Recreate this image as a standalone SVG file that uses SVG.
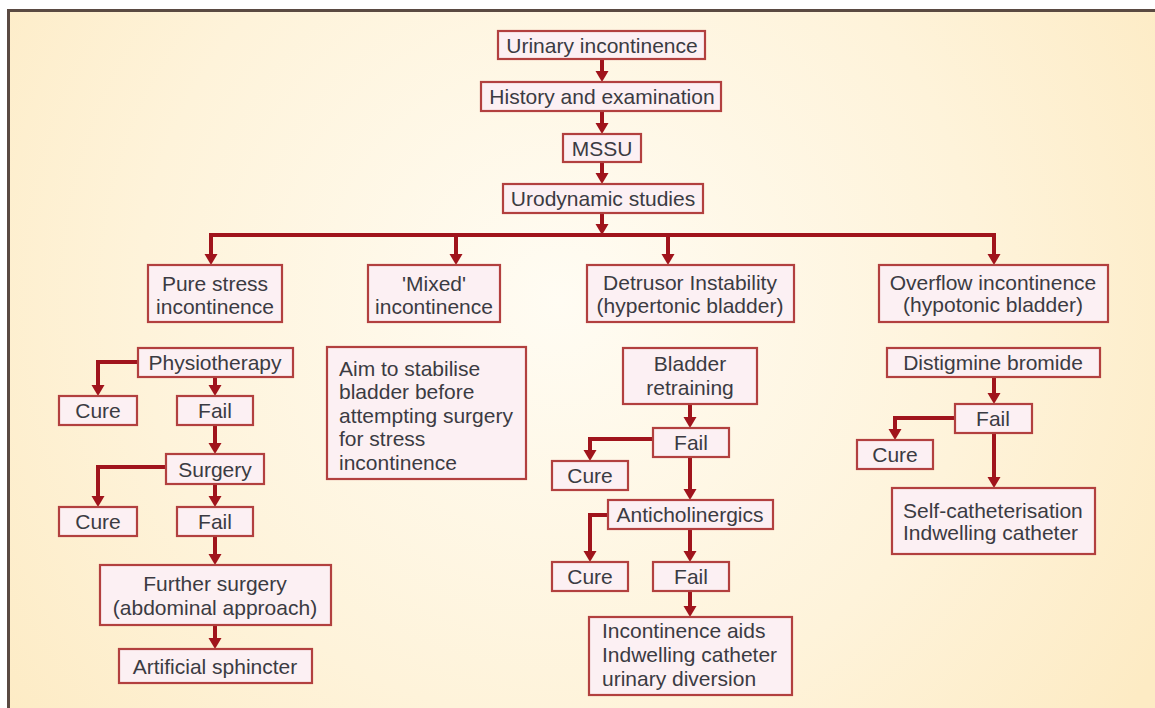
<svg xmlns="http://www.w3.org/2000/svg" width="1155" height="708" viewBox="0 0 1155 708">
<defs>
<radialGradient id="bg" cx="560" cy="300" r="700" gradientUnits="userSpaceOnUse">
<stop offset="0" stop-color="#fffcf3"/>
<stop offset="0.6" stop-color="#fef3da"/>
<stop offset="1" stop-color="#fdebc4"/>
</radialGradient>
<marker id="ah" markerUnits="userSpaceOnUse" markerWidth="14" markerHeight="14" refX="3" refY="6.5" orient="auto">
<path d="M0,0 L11,6.5 L0,13 z" fill="#a0141c"/>
</marker>
<style>
.box{fill:#fcf0f3;stroke:#b2403f;stroke-width:2.2}
.t{font-family:"Liberation Sans",Arial,sans-serif;font-size:21px;fill:#3b3b42}
.c{text-anchor:middle}
.cn{fill:none;stroke:#a0141c;stroke-width:4;stroke-linejoin:miter}
.ar{marker-end:url(#ah)}
</style>
</defs>
<rect x="0" y="0" width="1155" height="708" fill="#ffffff"/>
<rect x="8" y="10" width="1147" height="698" fill="url(#bg)"/>
<path d="M8.5,708 V10.5 H1155" fill="none" stroke="#5a4a42" stroke-width="3"/>

<g id="connectors">
<path class="cn ar" d="M602,59 V74"/>
<path class="cn ar" d="M602,111 V126"/>
<path class="cn ar" d="M602,162 V176"/>
<path class="cn ar" d="M602,213 V227"/>
<path class="cn" d="M211,237 V235 H994 V237"/>
<path class="cn ar" d="M211,235 V257"/>
<path class="cn ar" d="M456,235 V257"/>
<path class="cn ar" d="M668,235 V257"/>
<path class="cn ar" d="M994,235 V257"/>
<path class="cn ar" d="M138,362 H98 V388"/>
<path class="cn ar" d="M215,377 V388"/>
<path class="cn ar" d="M215,425 V446"/>
<path class="cn ar" d="M166,467 H98 V499"/>
<path class="cn ar" d="M215,484 V499"/>
<path class="cn ar" d="M215,536 V557"/>
<path class="cn ar" d="M215,625 V641"/>
<path class="cn ar" d="M690,404 V420"/>
<path class="cn ar" d="M653,439 H590 V453"/>
<path class="cn ar" d="M690,457 V492"/>
<path class="cn ar" d="M608,515 H590 V554"/>
<path class="cn ar" d="M690,529 V554"/>
<path class="cn ar" d="M690,591 V609"/>
<path class="cn ar" d="M994,377 V396"/>
<path class="cn ar" d="M955,418 H895 V432"/>
<path class="cn ar" d="M994,433 V480"/>
</g>

<g id="n-urinary"><rect class="box" x="498" y="31" width="207" height="28"/><text class="t c" x="602" y="52.5">Urinary incontinence</text></g>
<g id="n-history"><rect class="box" x="481" y="82" width="240" height="29"/><text class="t c" x="602" y="104">History and examination</text></g>
<g id="n-mssu"><rect class="box" x="563" y="134" width="78" height="28"/><text class="t c" x="602" y="155.5">MSSU</text></g>
<g id="n-urodynamic"><rect class="box" x="503" y="184" width="200" height="29"/><text class="t c" x="603" y="206">Urodynamic studies</text></g>

<g id="n-pure"><rect class="box" x="148" y="265" width="134" height="57"/><text class="t c" x="215" y="290.5">Pure stress</text><text class="t c" x="215" y="313.5">incontinence</text></g>
<g id="n-mixed"><rect class="box" x="368" y="265" width="132" height="57"/><text class="t c" x="434" y="290.5">'Mixed'</text><text class="t c" x="434" y="313.5">incontinence</text></g>
<g id="n-detrusor"><rect class="box" x="587" y="265" width="207" height="57"/><text class="t c" x="690" y="289.5">Detrusor Instability</text><text class="t c" x="690" y="312.5">(hypertonic bladder)</text></g>
<g id="n-overflow"><rect class="box" x="879" y="265" width="229" height="57"/><text class="t c" x="993" y="289.5">Overflow incontinence</text><text class="t c" x="993" y="311.5">(hypotonic bladder)</text></g>

<g id="n-physio"><rect class="box" x="138" y="348" width="155" height="29"/><text class="t c" x="215" y="370">Physiotherapy</text></g>
<g id="n-cure1"><rect class="box" x="59" y="396" width="78" height="29"/><text class="t c" x="98" y="418">Cure</text></g>
<g id="n-fail1"><rect class="box" x="177" y="396" width="76" height="29"/><text class="t c" x="215" y="418">Fail</text></g>
<g id="n-surgery"><rect class="box" x="166" y="454" width="98" height="30"/><text class="t c" x="215" y="476.5">Surgery</text></g>
<g id="n-cure2"><rect class="box" x="59" y="507" width="78" height="29"/><text class="t c" x="98" y="529">Cure</text></g>
<g id="n-fail2"><rect class="box" x="177" y="507" width="76" height="29"/><text class="t c" x="215" y="529">Fail</text></g>
<g id="n-further"><rect class="box" x="100" y="565" width="231" height="60"/><text class="t c" x="215" y="590.5">Further surgery</text><text class="t c" x="215" y="614.5">(abdominal approach)</text></g>
<g id="n-artificial"><rect class="box" x="119" y="649" width="193" height="34"/><text class="t c" x="215" y="673.5">Artificial sphincter</text></g>

<g id="n-aim"><rect class="box" x="327" y="347" width="199" height="132"/>
<text class="t" x="339" y="375.5">Aim to stabilise</text>
<text class="t" x="339" y="399">bladder before</text>
<text class="t" x="339" y="422.5">attempting surgery</text>
<text class="t" x="339" y="445.5">for stress</text>
<text class="t" x="339" y="469.5">incontinence</text></g>

<g id="n-retraining"><rect class="box" x="623" y="348" width="134" height="56"/><text class="t c" x="690" y="370.5">Bladder</text><text class="t c" x="690" y="394.5">retraining</text></g>
<g id="n-fail3"><rect class="box" x="653" y="428" width="76" height="29"/><text class="t c" x="691" y="450">Fail</text></g>
<g id="n-cure3"><rect class="box" x="552" y="461" width="76" height="29"/><text class="t c" x="590" y="483">Cure</text></g>
<g id="n-antichol"><rect class="box" x="608" y="500" width="165" height="29"/><text class="t c" x="690" y="522">Anticholinergics</text></g>
<g id="n-cure4"><rect class="box" x="552" y="562" width="76" height="29"/><text class="t c" x="590" y="584">Cure</text></g>
<g id="n-fail4"><rect class="box" x="653" y="562" width="76" height="29"/><text class="t c" x="691" y="584">Fail</text></g>
<g id="n-aids"><rect class="box" x="589" y="617" width="203" height="78"/>
<text class="t" x="602" y="637.5">Incontinence aids</text>
<text class="t" x="602" y="661.5">Indwelling catheter</text>
<text class="t" x="602" y="685.5">urinary diversion</text></g>

<g id="n-distigmine"><rect class="box" x="887" y="348" width="213" height="29"/><text class="t c" x="993" y="370">Distigmine bromide</text></g>
<g id="n-fail5"><rect class="box" x="955" y="404" width="77" height="29"/><text class="t c" x="993" y="426">Fail</text></g>
<g id="n-cure5"><rect class="box" x="857" y="440" width="76" height="29"/><text class="t c" x="895" y="462">Cure</text></g>
<g id="n-selfcath"><rect class="box" x="892" y="488" width="203" height="66"/>
<text class="t" x="903" y="517.5">Self-catheterisation</text>
<text class="t" x="903" y="539.5">Indwelling catheter</text></g>
</svg>
